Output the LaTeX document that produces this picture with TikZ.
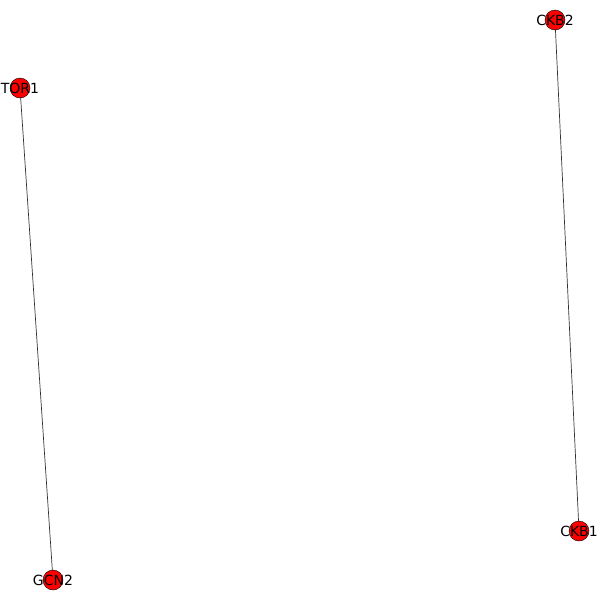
\documentclass[tikz,border=0pt]{standalone}
\usepackage{fontspec}
\setmainfont{DejaVu Sans}
\begin{document}
\begin{tikzpicture}[x=1pt,y=-1pt,
    prot/.style={circle,draw=black,fill=red,minimum size=20pt,inner sep=0pt,
      label={[font=\fontsize{14}{16}\selectfont,inner sep=0pt]center:#1}},
    link/.style={draw=black!80,line width=.7pt}]
  \useasboundingbox (0,0) rectangle (600,600);

  \node[prot=TOR1] (tor1) at (20,88) {};
  \node[prot=GCN2] (gcn2) at (53,580) {};
  \node[prot=CKB2] (ckb2) at (555,20) {};
  \node[prot=CKB1] (ckb1) at (579,531) {};

  \path[link] (tor1) -- (gcn2);
  \path[link] (ckb2) -- (ckb1);
\end{tikzpicture}
\end{document}
